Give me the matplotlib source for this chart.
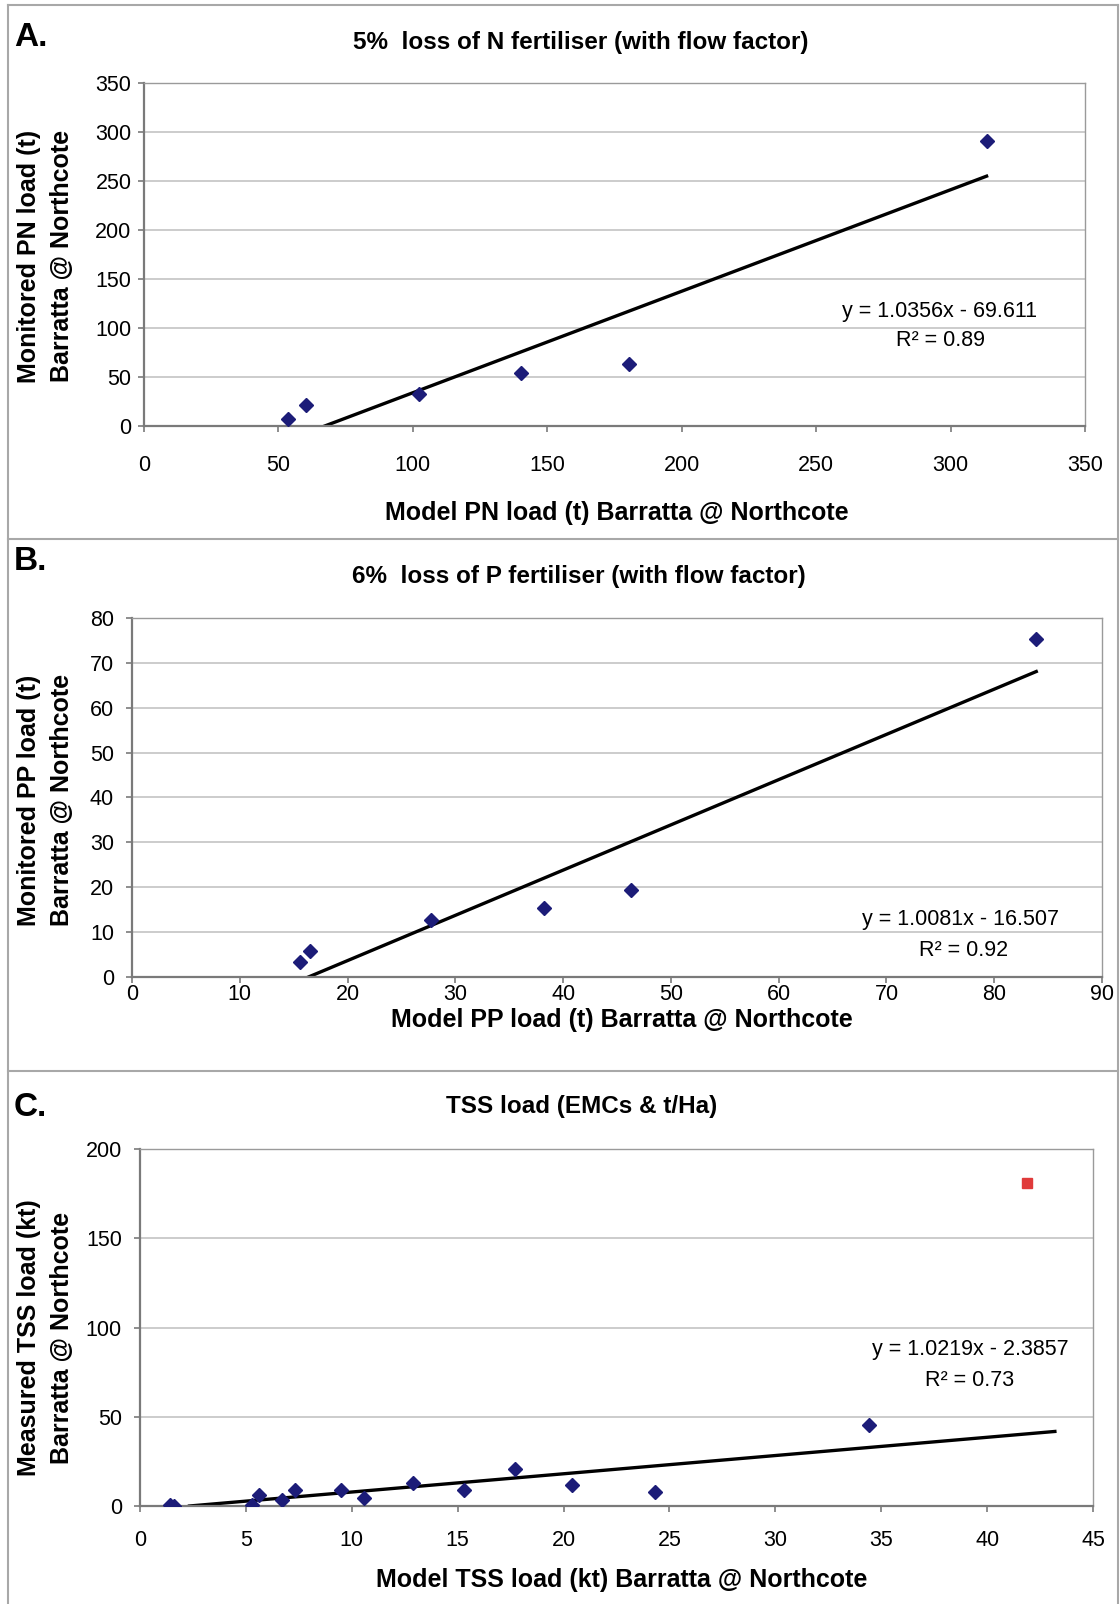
import numpy as np
import matplotlib
matplotlib.use("Agg")
import matplotlib.pyplot as plt
from matplotlib.lines import Line2D

plt.rcParams["font.family"] = ["Liberation Sans", "DejaVu Sans"]

W, H = 1120, 1604

# ---- data ----
pn_model = [53.4, 60.3, 102.3, 140.1, 180.5, 313.4]
pn_monitored = [7.3, 21.9, 32.3, 54.2, 63.5, 290.6]
pn_slope, pn_icept, pn_r2 = 1.0356, -69.611, 0.89

pp_model = [15.6, 16.5, 27.7, 38.2, 46.3, 83.9]
pp_monitored = [3.4, 5.9, 12.8, 15.3, 19.4, 75.4]
pp_slope, pp_icept, pp_r2 = 1.0081, -16.507, 0.92

tss_model = [1.4, 1.6, 5.3, 5.6, 6.7, 7.3, 9.5, 10.6, 12.9, 15.3, 17.7, 20.4, 24.3, 34.4]
tss_measured = [0.6, 0.2, 0.6, 6.2, 3.4, 9.0, 9.0, 4.5, 12.8, 9.0, 20.7, 11.8, 8.1, 45.3]
tss_outlier_x, tss_outlier_y = [41.9], [181.0]
tss_slope, tss_icept, tss_r2 = 1.0219, -2.3857, 0.73
tss_line_end = 43.2

fig = plt.figure(figsize=(W / 100, H / 100), dpi=100)


def px(x, y):
    return x / W, 1 - y / H


def make_ax(l, t, r, b, xpad, ypad):
    ax = fig.add_axes([l / W, 1 - b / H, (r - l) / W, (b - t) / H])
    for s in ["top", "right"]:
        ax.spines[s].set_color("#9a9a9a")
        ax.spines[s].set_linewidth(1.0)
    for s in ["left", "bottom"]:
        ax.spines[s].set_color("#7a7a7a")
        ax.spines[s].set_linewidth(1.6)
    ax.tick_params(direction="out", length=4, width=1.2, color="#7a7a7a",
                   labelsize=15.5)
    ax.tick_params(axis="x", pad=xpad)
    ax.tick_params(axis="y", pad=ypad)
    ax.grid(axis="y", color="#c4c4c4", lw=1.2)
    ax.set_axisbelow(True)
    return ax


def panel(ax, x, y, slope, icept, r2, xmax, xlim, xstep, ylim, ystep,
          title, xlabel, ylabels, letter, pos):
    ax.plot(x, y, ls="none", marker="D", ms=7, color="#1c1c78", zorder=3)
    x0 = -icept / slope
    xs = np.array([x0, xmax])
    ax.plot(xs, slope * xs + icept, color="black", lw=2.4, zorder=2)
    ax.set_xlim(*xlim)
    ax.set_ylim(*ylim)
    ax.set_xticks(np.arange(xlim[0], xlim[1] + xstep / 2, xstep))
    ax.set_yticks(np.arange(ylim[0], ylim[1] + ystep / 2, ystep))
    sign = "-" if icept < 0 else "+"
    fig.text(*px(*pos["eq"]), f"y = {slope:.4f}x {sign} {abs(icept):g}",
             ha="center", va="center", fontsize=15.5)
    fig.text(*px(*pos["r2"]), f"R² = {r2:.2f}", ha="center", va="center",
             fontsize=15.5)
    fig.text(*px(*pos["title"]), title, ha="center", va="center",
             fontsize=17.5, fontweight="bold")
    fig.text(*px(*pos["letter"]), letter, ha="left", va="center",
             fontsize=24, fontweight="bold")
    fig.text(*px(*pos["xlabel"]), xlabel, ha="center", va="center",
             fontsize=18, fontweight="bold")
    fig.text(*px(pos["ylab_x"][0], pos["ylab_y"]), ylabels[0], ha="center",
             va="center", rotation=90, fontsize=18, fontweight="bold")
    fig.text(*px(pos["ylab_x"][1], pos["ylab_y"]), ylabels[1], ha="center",
             va="center", rotation=90, fontsize=18, fontweight="bold")


# Panel A
axA = make_ax(144, 83, 1085, 426, xpad=17, ypad=5)
panel(axA, pn_model, pn_monitored, pn_slope, pn_icept, pn_r2, max(pn_model),
      (0, 350), 50, (0, 350), 50,
      "5%  loss of N fertiliser (with flow factor)",
      "Model PN load (t) Barratta @ Northcote",
      ["Monitored PN load (t)", "Barratta @ Northcote"], "A.",
      dict(eq=(939, 311), r2=(941, 341), title=(581, 43), letter=(14, 37),
           xlabel=(617, 513), ylab_x=(29, 62), ylab_y=256))

# Panel B
axB = make_ax(132, 618, 1102, 977, xpad=1, ypad=9)
panel(axB, pp_model, pp_monitored, pp_slope, pp_icept, pp_r2, max(pp_model),
      (0, 90), 10, (0, 80), 10,
      "6%  loss of P fertiliser (with flow factor)",
      "Model PP load (t) Barratta @ Northcote",
      ["Monitored PP load (t)", "Barratta @ Northcote"], "B.",
      dict(eq=(961, 920), r2=(964, 950), title=(579, 576), letter=(14, 562),
           xlabel=(622, 1020), ylab_x=(29, 62), ylab_y=800))

# Panel C
axC = make_ax(140, 1149, 1093, 1506, xpad=13, ypad=9)
panel(axC, tss_model, tss_measured, tss_slope, tss_icept, tss_r2, tss_line_end,
      (0, 45), 5, (0, 200), 50,
      "TSS load (EMCs & t/Ha)",
      "Model TSS load (kt) Barratta @ Northcote",
      ["Measured TSS load (kt)", "Barratta @ Northcote"], "C.",
      dict(eq=(970, 1350), r2=(970, 1380), title=(582, 1107), letter=(14, 1108),
           xlabel=(622, 1580), ylab_x=(29, 62), ylab_y=1338))
axC.plot(tss_outlier_x, tss_outlier_y, ls="none", marker="s", ms=7.5,
         color="#e03a3a", zorder=3)

# panel frames
frame_kw = dict(color="#a8a8a8", lw=1.5, transform=fig.transFigure)
for y in [5, 539, 1071]:
    fig.add_artist(Line2D([8 / W, 1118 / W], [1 - y / H, 1 - y / H], **frame_kw))
for x in [8, 1118]:
    fig.add_artist(Line2D([x / W, x / W], [1 - 5 / H, 0], **frame_kw))

fig.savefig("out.png", dpi=100, facecolor="white")
